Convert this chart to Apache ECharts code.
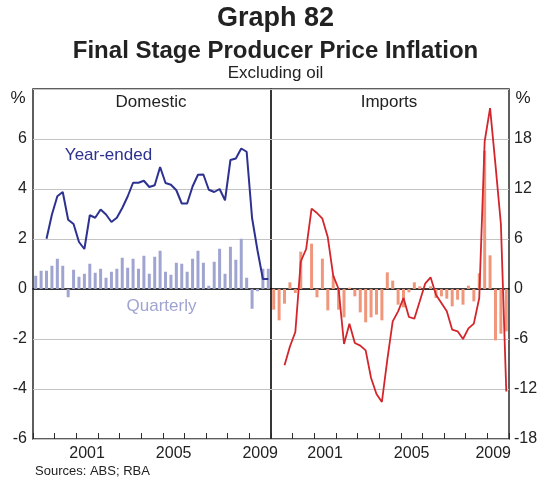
<!DOCTYPE html>
<html>
<head>
<meta charset="utf-8">
<script src="https://cdn.jsdelivr.net/npm/echarts@6/dist/echarts.min.js"></script>
<style>
  html, body { margin: 0; padding: 0; background: #fff; }
  #chart { width: 551px; height: 482px; }
</style>
</head>
<body>
<div id="chart"></div>
<script>
// Quarterly periods, 1999 Q1 to 2009 Q4
const quarters = [];
for (let y = 1999; y <= 2009; y++) for (let q = 1; q <= 4; q++) quarters.push(y + ' Q' + q);
const years = ['1999','2000','2001','2002','2003','2004','2005','2006','2007','2008','2009'];
const shownYears = ['2001', '2005', '2009'];

// Domestic final stage PPI (excluding oil), per cent
const domesticQuarterly = [0.53,0.73,0.73,0.93,1.21,0.93,-0.33,0.77,0.49,0.61,1.01,0.65,0.81,0.45,0.69,0.81,
  1.25,0.85,1.21,0.81,1.33,0.61,1.29,1.53,0.69,0.57,1.05,1.01,0.69,1.21,1.53,1.05,0.13,1.09,1.61,0.61,
  1.69,1.17,2.01,0.45,-0.79,-0.09,0.81,0.81];
const domesticYearEnded = [null,null,2.01,2.98,3.71,3.88,2.77,2.6,1.88,1.6,2.95,2.85,3.18,2.98,2.68,2.85,
  3.24,3.7,4.25,4.25,4.33,4.08,4.15,4.88,4.24,4.17,3.95,3.42,3.42,4.1,4.57,4.58,3.97,3.88,4.0,3.55,
  5.16,5.22,5.62,5.49,2.84,1.55,0.4,0.4];

// Imported final stage PPI (excluding oil), per cent
const importsQuarterly = [-2.48,-3.76,-1.76,0.8,-0.48,4.48,0,5.44,-1.0,3.64,-2.56,1.6,-2.48,-3.4,0.16,-0.88,
  -2.8,-4.0,-3.4,-3.08,-3.76,2.0,1.0,-1.88,-2.2,-0.4,0.8,0.32,0,0.32,-1.08,-0.88,-1.16,-2.08,-1.28,-1.88,
  0.4,-1.48,1.88,16.6,4.04,-6.16,-5.36,-5.08];
const importsYearEnded = [null,null,-9.16,-6.9,-5.16,3.3,4.8,9.64,9.12,8.44,6.2,1.6,0.0,-6.6,-4.16,-6.48,
  -6.8,-7.36,-10.68,-12.6,-13.56,-8.5,-3.88,-2.68,-1.08,-3.36,-3.56,-1.48,0.64,1.4,-0.68,-1.68,-2.68,-4.88,
  -5.08,-6.0,-4.72,-4.16,-1.08,17.7,21.7,14.9,7.8,-12.3];

const FONT = '"Liberation Sans", Arial, Helvetica, sans-serif';
const TEXT = '#222';
const GRIDLINE = '#c4c4c4';
const FRAME = '#2a2a2a';

function quarterAxis(grid) {
  return {
    type: 'category', gridIndex: grid, data: quarters, boundaryGap: true, position: 'bottom',
    axisLine: { show: true, onZero: true, lineStyle: { color: '#000', width: 1.5 } },
    axisTick: { show: false }, axisLabel: { show: false }, splitLine: { show: false }
  };
}
// Year axis: ticks on year boundaries, labels centred in the year.
// On the right-hand panel the last label is nudged left, clear of the -18 label.
function yearAxis(grid, nudgeLast) {
  return {
    type: 'category', gridIndex: grid, data: years, boundaryGap: true, position: 'bottom',
    axisLine: { show: false, onZero: false },
    axisTick: { show: true, inside: true, length: 6, interval: 0, lineStyle: { color: FRAME, width: 1 } },
    axisLabel: {
      interval: 0, margin: 7, fontFamily: FONT, fontSize: 16, color: TEXT,
      formatter: v => {
        if (!shownYears.includes(v)) return '';
        return (nudgeLast && v === '2009') ? '{n|' + v + '}' : v;
      },
      rich: { n: { fontFamily: FONT, fontSize: 16, color: TEXT, padding: [0, 10, 0, 0] } }
    },
    splitLine: { show: false }
  };
}
function valueAxis(grid, min, max, step, pos) {
  return {
    type: 'value', gridIndex: grid, min: min, max: max, interval: step, position: pos,
    axisLine: { show: false }, axisTick: { show: false },
    axisLabel: {
      margin: pos === 'left' ? 6 : 5, fontFamily: FONT, fontSize: 16, color: TEXT,
      formatter: v => v === max ? '' : String(v)
    },
    splitLine: { show: true, lineStyle: { color: GRIDLINE, width: 1 } }
  };
}
function label(text, x, y, size, opts) {
  opts = opts || {};
  return {
    type: 'text', x: x, y: y, z: 100,
    style: {
      text: text, fill: opts.color || TEXT,
      font: (opts.bold ? 'bold ' : '') + size + 'px ' + FONT,
      align: opts.align || 'center', verticalAlign: 'middle',
      textAlign: opts.align || 'center', textVerticalAlign: 'middle'
    }
  };
}

const chart = echarts.init(document.getElementById('chart'), null, { renderer: 'canvas' });
chart.setOption({
  animation: false,
  backgroundColor: '#fff',
  grid: [
    { left: 33, top: 89, width: 238, height: 350, show: true, borderColor: FRAME, borderWidth: 1.5, backgroundColor: 'transparent' },
    { left: 271, top: 89, width: 238, height: 350, show: true, borderColor: FRAME, borderWidth: 1.5, backgroundColor: 'transparent' }
  ],
  xAxis: [quarterAxis(0), yearAxis(0, false), quarterAxis(1), yearAxis(1, true)],
  yAxis: [valueAxis(0, -6, 8, 2, 'left'), valueAxis(1, -18, 24, 6, 'right')],
  series: [
    { name: 'Domestic quarterly', type: 'bar', xAxisIndex: 0, yAxisIndex: 0, data: domesticQuarterly,
      barWidth: 3, itemStyle: { color: '#a0a4d1' } },
    { name: 'Domestic year-ended', type: 'line', xAxisIndex: 0, yAxisIndex: 0, data: domesticYearEnded,
      showSymbol: false, symbol: 'none', lineStyle: { color: '#2d3190', width: 2 }, z: 5 },
    { name: 'Imports quarterly', type: 'bar', xAxisIndex: 2, yAxisIndex: 1, data: importsQuarterly,
      barWidth: 3, itemStyle: { color: '#f0977b' } },
    { name: 'Imports year-ended', type: 'line', xAxisIndex: 2, yAxisIndex: 1, data: importsYearEnded,
      showSymbol: false, symbol: 'none', lineStyle: { color: '#d3262c', width: 1.8 }, z: 5 }
  ],
  graphic: [
    label('Graph 82', 275.5, 19, 27, { bold: true }),
    label('Final Stage Producer Price Inflation', 275.5, 51.5, 24, { bold: true }),
    label('Excluding oil', 275.5, 73, 17),
    label('%', 18, 98, 17),
    label('%', 523, 98, 17),
    label('Domestic', 151, 102, 17),
    label('Imports', 389, 102, 17),
    label('Year-ended', 108.5, 155, 17, { color: '#2d3190' }),
    label('Quarterly', 161.5, 306, 17, { color: '#a0a4d1' }),
    label('Sources: ABS; RBA', 35, 471, 13, { align: 'left' })
  ]
});
</script>
</body>
</html>
